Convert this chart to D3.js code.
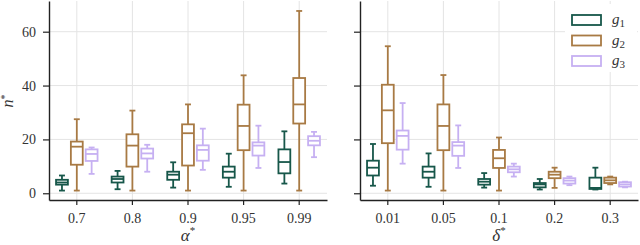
<!DOCTYPE html>
<html>
<head>
<meta charset="utf-8">
<script src="https://cdn.jsdelivr.net/npm/d3@7"></script>
<style>
  body { margin: 0; background: #fff; }
  .grid line { stroke: #e4e4e4; stroke-width: 1; }
  .axis path, .axis line { stroke: #222; }
  .axis path { stroke-width: 1.4; }
</style>
</head>
<body>
<svg id="chart" width="640" height="245"></svg>
<script>
// categories
const alphaCats = ["0.7", "0.8", "0.9", "0.95", "0.99"];
const deltaCats = ["0.01", "0.05", "0.1", "0.2", "0.3"];
const groups = ["g1", "g2", "g3"];
const colors = ["#17574a", "#a87a44", "#c6b0f2"];
const yTicks = [0, 20, 40, 60];

// box stats per category: [min, q1, median, q3, max]
const alphaG1 = [[1, 3.2, 4, 5, 6.6], [1.5, 4, 5.3, 6.2, 8.3], [2.1, 5, 6.9, 8, 11.5], [2.4, 5.8, 8, 9.9, 14.7], [3.6, 7.4, 11.6, 16.3, 23]];
const alphaG2 = [[1, 10.6, 17.3, 19.2, 27.5], [1, 9.9, 17.7, 21.9, 30.7], [1, 10.3, 22.3, 25.6, 33], [1, 16, 25, 32.9, 43.8], [1, 25.9, 33, 42.8, 67.7]];
const alphaG3 = [[7.2, 12, 14.6, 16.3, 17], [8, 12.9, 14.8, 16.6, 18], [8.7, 12.1, 16.1, 17.8, 24], [9.4, 14, 17.7, 18.9, 25.1], [13.4, 17.8, 19.5, 21.2, 22.8]];

const deltaG1 = [[2.8, 6.6, 9.5, 12.1, 18.3], [2.4, 5.8, 8, 9.9, 14.8], [2.1, 3.2, 4.3, 5.3, 7.5], [1.4, 2.2, 3.3, 3.8, 5.3], [1.4, 1.6, 2, 5.8, 9.5]];
const deltaG2 = [[1, 18.6, 30.8, 40.3, 54.6], [1, 16, 25, 33, 43.9], [1, 9.4, 13, 16.1, 20.7], [2, 5.6, 6.9, 8, 9.5], [3.3, 3.8, 4.8, 5.8, 6.2]];
const deltaG3 = [[11, 16.2, 21.3, 23.3, 33.5], [9.4, 13.9, 17.7, 19, 25.2], [6.2, 7.8, 8.9, 9.9, 11], [3, 3.6, 4.7, 5.6, 6.2], [2.2, 2.5, 3.3, 4.1, 4.3]];

const FONT = "'Liberation Serif', 'Times New Roman', serif";
const svg = d3.select("#chart").attr("font-family", FONT);
const plotTop = 1, plotBottom = 200;
const y = d3.scaleLinear().domain([-2.5, 71.4]).range([plotBottom, plotTop]);

const panels = [
  { left: 49, right: 327, cats: alphaCats, series: [alphaG1, alphaG2, alphaG3], label: "α", labels: true },
  { left: 360, right: 638, cats: deltaCats, series: [deltaG1, deltaG2, deltaG3], label: "δ", labels: false }
];

panels.forEach(p => {
  const x = d3.scaleBand().domain(p.cats).range([p.left, p.right]).paddingInner(0).paddingOuter(0);
  const bw = x.bandwidth();
  const hue = d3.scaleBand().domain(groups).range([-0.4 * bw, 0.4 * bw]);
  const g = svg.append("g");

  // grid
  const grid = g.append("g").attr("class", "grid");
  grid.selectAll(".hy").data(yTicks).enter().append("line")
    .attr("x1", p.left).attr("x2", p.right)
    .attr("y1", d => y(d)).attr("y2", d => y(d));
  grid.selectAll(".vx").data(p.cats).enter().append("line")
    .attr("x1", d => x(d) + bw / 2).attr("x2", d => x(d) + bw / 2)
    .attr("y1", plotTop).attr("y2", plotBottom);

  // boxes
  const boxW = hue.bandwidth() * 0.8;
  const capW = boxW / 2;
  p.series.forEach((ser, gi) => {
    const col = colors[gi];
    const bg = g.append("g").attr("stroke", col).attr("stroke-width", 1.8).attr("fill", "#fff");
    ser.forEach((s, ci) => {
      const cx = x(p.cats[ci]) + bw / 2 + hue(groups[gi]) + hue.bandwidth() / 2;
      const [mn, q1, md, q3, mx] = s;
      bg.append("line").attr("x1", cx).attr("x2", cx).attr("y1", y(q3)).attr("y2", y(mx));
      bg.append("line").attr("x1", cx).attr("x2", cx).attr("y1", y(q1)).attr("y2", y(mn));
      bg.append("line").attr("x1", cx - capW / 2).attr("x2", cx + capW / 2).attr("y1", y(mx)).attr("y2", y(mx));
      bg.append("line").attr("x1", cx - capW / 2).attr("x2", cx + capW / 2).attr("y1", y(mn)).attr("y2", y(mn));
      bg.append("rect").attr("x", cx - boxW / 2).attr("width", boxW)
        .attr("y", y(q3)).attr("height", y(q1) - y(q3));
      bg.append("line").attr("x1", cx - boxW / 2).attr("x2", cx + boxW / 2).attr("y1", y(md)).attr("y2", y(md));
    });
  });

  // axes
  const xAxis = d3.axisBottom(x).tickSize(5).tickSizeOuter(0).tickPadding(8);
  const xg = g.append("g").attr("class", "axis").attr("transform", `translate(0,${plotBottom})`).call(xAxis);
  xg.attr("font-family", FONT).attr("font-size", 14);
  xg.selectAll(".tick line").attr("stroke-width", 1.2);
  xg.selectAll(".tick text").attr("fill", "#333");

  const yAxis = d3.axisLeft(y).tickValues(yTicks).tickSize(6).tickSizeOuter(0).tickPadding(7);
  if (!p.labels) yAxis.tickFormat("");
  const yg = g.append("g").attr("class", "axis").attr("transform", `translate(${p.left},0)`).call(yAxis);
  yg.attr("font-family", FONT).attr("font-size", 14);
  yg.selectAll(".tick line").attr("stroke-width", 1.2);
  yg.selectAll(".tick text").attr("fill", "#333");

  // x label
  const xl = g.append("text").attr("x", (p.left + p.right) / 2).attr("y", 241)
    .attr("text-anchor", "middle").attr("font-size", 17).attr("fill", "#333");
  xl.append("tspan").attr("font-style", "italic").text(p.label);
  xl.append("tspan").attr("font-size", 11).attr("dy", -7).text("*");
});

// y label
const yl = svg.append("text").attr("transform", "translate(13,101) rotate(-90)")
  .attr("text-anchor", "middle").attr("font-size", 16).attr("fill", "#333");
yl.append("tspan").attr("font-style", "italic").text("n");
yl.append("tspan").attr("font-size", 10).attr("dy", -5).text("*");

// legend
const leg = svg.append("g");
leg.append("rect").attr("x", 565).attr("y", 4).attr("width", 72).attr("height", 68).attr("fill", "#fff");
groups.forEach((gname, i) => {
  const ly = 20 + i * 20.5;
  leg.append("rect").attr("x", 572).attr("y", ly - 5).attr("width", 29).attr("height", 10)
    .attr("fill", "#fff").attr("stroke", colors[i]).attr("stroke-width", 1.8);
  const t = leg.append("text").attr("x", 612).attr("y", ly + 4).attr("font-size", 15).attr("fill", "#333");
  t.append("tspan").attr("font-style", "italic").text("g");
  t.append("tspan").attr("font-size", 11).attr("dy", 3).text(gname.slice(1));
});
</script>
</body>
</html>
